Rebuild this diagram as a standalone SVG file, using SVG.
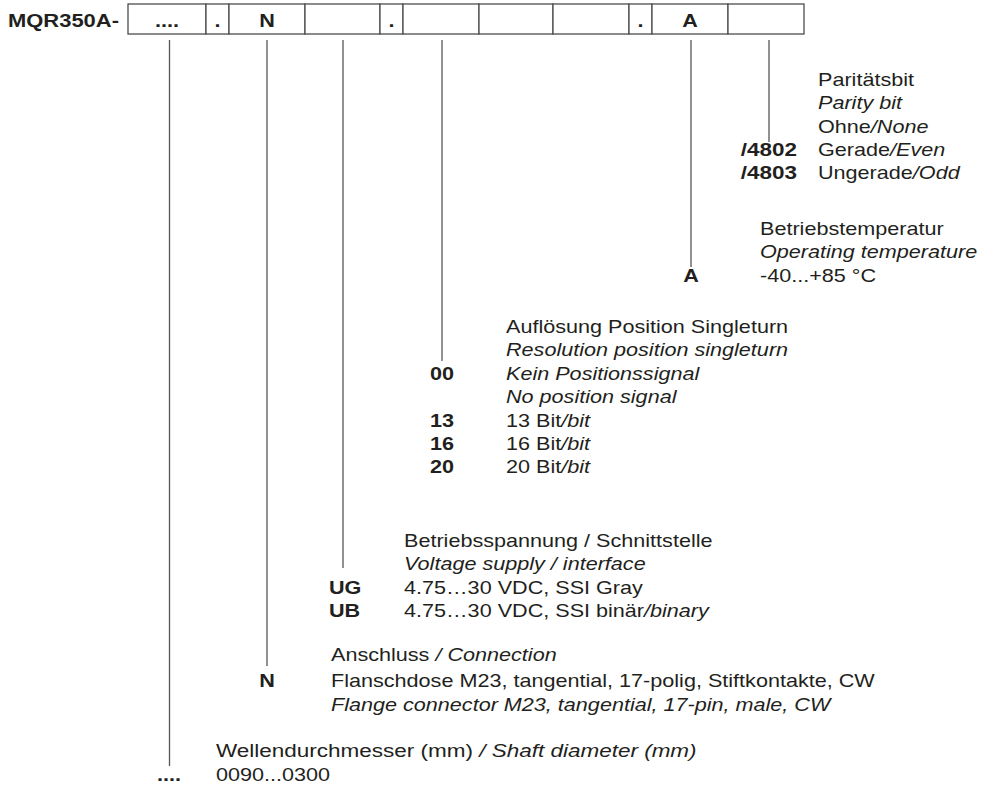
<svg xmlns="http://www.w3.org/2000/svg" width="988" height="787" viewBox="0 0 988 787">
<style>
text{font-family:"Liberation Sans",Arial,sans-serif;font-size:18px;fill:#231f20}
.b{font-weight:bold}
.i{font-style:italic}
.e{text-anchor:end}
.m{text-anchor:middle}
.box{fill:#fff;stroke:#4d4d4d;stroke-width:1.3}
.ln{stroke:#555;stroke-width:1.3;fill:none}
</style>
<rect width="988" height="787" fill="#fff"/>
<g id="order-code">
<text class="b" transform="translate(8,27) scale(1.22,1)">MQR350A-</text>
<rect class="box" x="128" y="4" width="78" height="30"/>
<rect class="box" x="206" y="4" width="23" height="30"/>
<rect class="box" x="229" y="4" width="76" height="30"/>
<rect class="box" x="305" y="4" width="75" height="30"/>
<rect class="box" x="380" y="4" width="23" height="30"/>
<rect class="box" x="403" y="4" width="76" height="30"/>
<rect class="box" x="479" y="4" width="74" height="30"/>
<rect class="box" x="553" y="4" width="76" height="30"/>
<rect class="box" x="629" y="4" width="23" height="30"/>
<rect class="box" x="652" y="4" width="76" height="30"/>
<rect class="box" x="728" y="4" width="76" height="30"/>
<text class="b m" transform="translate(167,27) scale(1.2,1)">....</text>
<text class="b m" transform="translate(217.5,27) scale(1.2,1)">.</text>
<text class="b m" transform="translate(267,27) scale(1.2,1)">N</text>
<text class="b m" transform="translate(391.5,27) scale(1.2,1)">.</text>
<text class="b m" transform="translate(640.5,27) scale(1.2,1)">.</text>
<text class="b m" transform="translate(690,27) scale(1.2,1)">A</text>
</g>
<g id="connectors">
<line class="ln" x1="169.5" y1="40" x2="169.5" y2="766"/>
<line class="ln" x1="267" y1="40" x2="267" y2="666"/>
<line class="ln" x1="343" y1="40" x2="343" y2="568"/>
<line class="ln" x1="442" y1="40" x2="442" y2="361"/>
<line class="ln" x1="691" y1="40" x2="691" y2="267"/>
<line class="ln" x1="769" y1="40" x2="769" y2="142"/>
</g>
<g id="parity">
<text transform="translate(818,86) scale(1.2,1)">Paritätsbit</text>
<text class="i" transform="translate(818,109) scale(1.2,1)">Parity bit</text>
<text transform="translate(818,133) scale(1.2,1)">Ohne<tspan class="i">/None</tspan></text>
<text class="b e" transform="translate(797,156) scale(1.25,1)">/4802</text>
<text transform="translate(818,156) scale(1.2,1)">Gerade<tspan class="i">/Even</tspan></text>
<text class="b e" transform="translate(797,179) scale(1.25,1)">/4803</text>
<text transform="translate(818,179) scale(1.2,1)">Ungerade<tspan class="i">/Odd</tspan></text>
</g>
<g id="temperature">
<text transform="translate(760,235) scale(1.2,1)">Betriebstemperatur</text>
<text class="i" transform="translate(760,258) scale(1.2,1)">Operating temperature</text>
<text class="b m" transform="translate(691,282) scale(1.2,1)">A</text>
<text transform="translate(760,282) scale(1.2,1)">-40...+85 °C</text>
</g>
<g id="resolution">
<text transform="translate(506,333) scale(1.2,1)">Auflösung Position Singleturn</text>
<text class="i" transform="translate(506,356) scale(1.2,1)">Resolution position singleturn</text>
<text class="b" transform="translate(430,380) scale(1.2,1)">00</text>
<text class="i" transform="translate(506,380) scale(1.2,1)">Kein Positionssignal</text>
<text class="i" transform="translate(506,403) scale(1.2,1)">No position signal</text>
<text class="b" transform="translate(430,427) scale(1.2,1)">13</text>
<text transform="translate(506,427) scale(1.2,1)">13 Bit<tspan class="i">/bit</tspan></text>
<text class="b" transform="translate(430,450) scale(1.2,1)">16</text>
<text transform="translate(506,450) scale(1.2,1)">16 Bit<tspan class="i">/bit</tspan></text>
<text class="b" transform="translate(430,473) scale(1.2,1)">20</text>
<text transform="translate(506,473) scale(1.2,1)">20 Bit<tspan class="i">/bit</tspan></text>
</g>
<g id="voltage">
<text transform="translate(404,547) scale(1.2,1)">Betriebsspannung / Schnittstelle</text>
<text class="i" transform="translate(404,570) scale(1.2,1)">Voltage supply / interface</text>
<text class="b" transform="translate(329,594) scale(1.2,1)">UG</text>
<text transform="translate(404,594) scale(1.2,1)">4.75…30 VDC, SSI Gray</text>
<text class="b" transform="translate(329,617) scale(1.2,1)">UB</text>
<text transform="translate(404,617) scale(1.2,1)">4.75…30 VDC, SSI binär<tspan class="i">/binary</tspan></text>
</g>
<g id="connection">
<text transform="translate(331,661) scale(1.2,1)">Anschluss<tspan class="i"> / Connection</tspan></text>
<text class="b m" transform="translate(267,687) scale(1.2,1)">N</text>
<text transform="translate(331,687) scale(1.2,1)">Flanschdose M23, tangential, 17-polig, Stiftkontakte, CW</text>
<text class="i" transform="translate(331,711) scale(1.2,1)">Flange connector M23, tangential, 17-pin, male, CW</text>
</g>
<g id="shaft">
<text transform="translate(216,757) scale(1.25,1)">Wellendurchmesser (mm)<tspan class="i"> / Shaft diameter (mm)</tspan></text>
<text class="b m" transform="translate(169,781) scale(1.2,1)">....</text>
<text transform="translate(216,781) scale(1.2,1)">0090...0300</text>
</g>
</svg>
